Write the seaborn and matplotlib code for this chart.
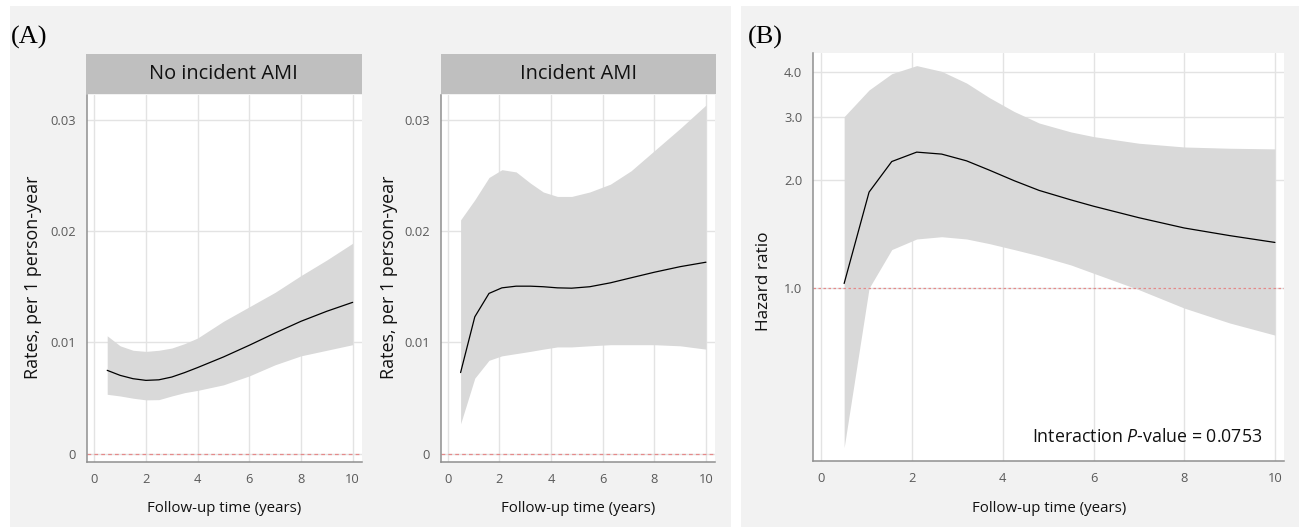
import matplotlib
matplotlib.use("Agg")
import matplotlib.pyplot as plt
import seaborn as sns
import numpy as np
from matplotlib.patches import Rectangle
from matplotlib.ticker import FixedLocator, FixedFormatter, NullLocator

# ---------------- data ----------------
facet_titles = ["No incident AMI", "Incident AMI"]

# Panel A, facet 1: No incident AMI
a1_x = [0.5, 1.0, 1.5, 2.0, 2.5, 3.0, 3.5, 4.0, 5.0, 6.0, 7.0, 8.0, 9.0, 10.0]
a1_rate = [0.00750, 0.00705, 0.00675, 0.00660, 0.00665, 0.00690, 0.00730, 0.00775,
           0.00870, 0.00975, 0.01085, 0.01190, 0.01280, 0.01360]
a1_upper = [0.0106, 0.0097, 0.0093, 0.0092, 0.0093, 0.0095, 0.0099, 0.0104,
            0.0119, 0.0132, 0.0145, 0.0160, 0.0174, 0.0189]
a1_lower = [0.00535, 0.00520, 0.00500, 0.00485, 0.00487, 0.00520, 0.00550, 0.00570,
            0.00620, 0.00700, 0.00800, 0.00880, 0.00930, 0.00980]

# Panel A, facet 2: Incident AMI
a2_x = [0.5, 1.05, 1.6, 2.1, 2.65, 3.2, 3.7, 4.25, 4.8, 5.5, 6.3, 7.1, 8.0, 9.0, 10.0]
a2_rate = [0.0073, 0.0123, 0.0144, 0.0149, 0.01505, 0.01505, 0.0150, 0.0149, 0.01487,
           0.0150, 0.01535, 0.0158, 0.0163, 0.0168, 0.0172]
a2_upper = [0.0210, 0.0228, 0.0248, 0.0255, 0.0253, 0.0243, 0.0235, 0.0231, 0.0231,
            0.0235, 0.0242, 0.0254, 0.0272, 0.0292, 0.0313]
a2_lower = [0.0027, 0.0068, 0.0084, 0.0088, 0.0090, 0.0092, 0.0094, 0.0096, 0.0096,
            0.0097, 0.0098, 0.0098, 0.0098, 0.0097, 0.0094]

# Panel B: hazard ratio
b_x = [0.5, 1.05, 1.55, 2.1, 2.65, 3.2, 3.7, 4.25, 4.8, 5.5, 6.0, 7.0, 8.0, 9.0, 10.0]
b_hr = [1.03, 1.85, 2.25, 2.39, 2.36, 2.26, 2.13, 1.99, 1.87, 1.76, 1.69, 1.57, 1.47, 1.40, 1.34]
b_upper = [3.00, 3.56, 3.95, 4.16, 4.01, 3.72, 3.39, 3.10, 2.88, 2.72, 2.64, 2.53, 2.47, 2.45, 2.44]
b_lower = [0.36, 1.00, 1.28, 1.37, 1.39, 1.37, 1.33, 1.28, 1.23, 1.16, 1.10, 0.99, 0.88, 0.80, 0.74]

x_ticks = [0, 2, 4, 6, 8, 10]
a_yticks = [0, 0.01, 0.02, 0.03]
a_yticklabels = ["0", "0.01", "0.02", "0.03"]
b_yticks = [1.0, 2.0, 3.0, 4.0]
b_yticklabels = ["1.0", "2.0", "3.0", "4.0"]

# ---------------- style ----------------
sns.set_style("white")
plt.rcParams["font.family"] = ["Open Sans", "DejaVu Sans"]
plt.rcParams["mathtext.fontset"] = "custom"
plt.rcParams["mathtext.rm"] = "Open Sans"
plt.rcParams["mathtext.it"] = "Open Sans:italic"

W, H = 1299, 527
fig = plt.figure(figsize=(W / 100, H / 100), dpi=100)
fig.patch.set_facecolor("white")


def rect(l, t, r, b):
    return [l / W, 1 - b / H, (r - l) / W, (b - t) / H]


# panel backgrounds
for (l, t, r, b) in [(10, 6, 731, 527), (741, 6, 1299, 527)]:
    fig.add_artist(Rectangle((l / W, 1 - b / H), (r - l) / W, (b - t) / H,
                             transform=fig.transFigure, facecolor="#f2f2f2",
                             edgecolor="none", zorder=-10))

SPINE = "#8f8f8f"
GRID = "#e3e3e3"
TICKLAB = "#5a5a5a"
BAND = "#d9d9d9"
REF = "#e58a8a"
TICKSIZE = 9.3


def style_axes(ax):
    ax.set_facecolor("white")
    for s in ["top", "right"]:
        ax.spines[s].set_visible(False)
    for s in ["left", "bottom"]:
        ax.spines[s].set_color(SPINE)
        ax.spines[s].set_linewidth(1.1)
    ax.tick_params(axis="both", which="major", direction="out", length=5, width=0.9,
                   color=SPINE, labelcolor=TICKLAB, labelsize=TICKSIZE, pad=3)
    ax.grid(True, color=GRID, linewidth=1.0)
    ax.set_axisbelow(True)


def rate_panel(ax, xs, rate, lo, hi):
    style_axes(ax)
    ax.fill_between(xs, lo, hi, color=BAND, linewidth=0, zorder=1)
    sns.lineplot(x=xs, y=rate, ax=ax, color="black", linewidth=0.9, zorder=3)
    ax.axhline(0, color=REF, linewidth=0.9, dashes=(3, 2.5), zorder=2)
    ax.set_xlim(-0.27, 10.35)
    ax.set_ylim(-0.00075, 0.0322)
    ax.set_xticks(x_ticks)
    ax.set_yticks(a_yticks)
    ax.set_yticklabels(a_yticklabels)
    ax.set_xlabel("Follow-up time (years)", fontsize=10.8, color="#111111", va="center")
    ax.xaxis.set_label_coords(0.5, (462.3 - 508) / (462.3 - 95))
    ax.set_ylabel("Rates, per 1 person-year", fontsize=12.9, color="#111111", va="center")


# Panel A axes
ax1 = fig.add_axes(rect(87.3, 95, 361.7, 462.3))
rate_panel(ax1, a1_x, a1_rate, a1_lower, a1_upper)
ax1.yaxis.set_label_coords((33.5 - 87.3) / (361.7 - 87.3), (462.3 - 277) / (462.3 - 95))

ax2 = fig.add_axes(rect(440.7, 95, 715, 462.3))
rate_panel(ax2, a2_x, a2_rate, a2_lower, a2_upper)
ax2.yaxis.set_label_coords((388.5 - 440.7) / (715 - 440.7), (462.3 - 277) / (462.3 - 95))

# facet strips
for (l, r), title in zip([(86, 361.7), (440.7, 716)], facet_titles):
    sax = fig.add_axes(rect(l, 54.3, r, 94))
    sax.set_facecolor("#bfbfbf")
    for s in sax.spines.values():
        s.set_visible(False)
    sax.set_xticks([])
    sax.set_yticks([])
    sax.text(0.5, 0.5, title, ha="center", va="center", fontsize=14.4,
             color="#111111", transform=sax.transAxes)

# Panel B axes
axb = fig.add_axes(rect(813.3, 53, 1284, 460.7))
style_axes(axb)
axb.set_yscale("log")
axb.fill_between(b_x, b_lower, b_upper, color=BAND, linewidth=0, zorder=1)
sns.lineplot(x=b_x, y=b_hr, ax=axb, color="black", linewidth=0.9, zorder=3)
axb.axhline(1.0, color=REF, linewidth=0.9, dashes=(2, 2), zorder=2)
axb.set_xlim(-0.18, 10.2)
axb.set_ylim(0.331, 4.51)
axb.set_xticks(x_ticks)
axb.yaxis.set_major_locator(FixedLocator(b_yticks))
axb.yaxis.set_major_formatter(FixedFormatter(b_yticklabels))
axb.yaxis.set_minor_locator(NullLocator())
axb.set_xlabel("Follow-up time (years)", fontsize=10.8, color="#111111", va="center")
axb.xaxis.set_label_coords(0.5, (460.7 - 508) / (460.7 - 53))
axb.set_ylabel("Hazard ratio", fontsize=12.4, color="#111111", va="center")
axb.yaxis.set_label_coords((764.5 - 813.3) / (1284 - 813.3), (460.7 - 281.5) / (460.7 - 53))
axb.text((1262 - 813.3) / (1284 - 813.3), (460.7 - 437) / (460.7 - 53),
         r"Interaction $\it{P}$-value = 0.0753", ha="right", va="center",
         fontsize=12.8, color="#111111", transform=axb.transAxes)

# panel letters
fig.text(11 / W, 1 - 37.5 / H, "(A)", fontsize=19, family="Liberation Serif",
         ha="left", va="center", color="black")
fig.text(748 / W, 1 - 37.5 / H, "(B)", fontsize=19, family="Liberation Serif",
         ha="left", va="center", color="black")

fig.savefig("out.png", dpi=100, facecolor="white")
